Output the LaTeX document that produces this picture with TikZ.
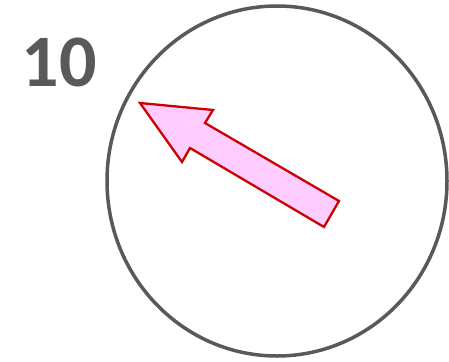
\documentclass[tikz,border=0pt]{standalone}
\usepackage{fontspec}
\setmainfont{Carlito}
\definecolor{rimgray}{HTML}{595959}
\definecolor{arrowfill}{HTML}{FFCCFF}
\definecolor{arrowline}{HTML}{CC0000}
\tikzset{
  rim/.style={draw=rimgray, line width=3.5pt},
  pointer/.style={draw=arrowline, fill=arrowfill, line width=2.3pt, line join=miter},
  numlabel/.style={text=rimgray, font=\bfseries\fontsize{74}{74}\selectfont, inner sep=0pt, anchor=base}
}
\begin{document}
\begin{tikzpicture}[x=1pt,y=-1pt]
\useasboundingbox (0,0) rectangle (449,361);
\draw[rim] (277,181) ellipse [x radius=170pt, y radius=175pt];
\draw[pointer] (140,103) -- (213,110) -- (205,123) -- (339,201) -- (324,227) -- (190,148) -- (182,162) -- cycle;
\node[numlabel] (num) at (59.5,86) {10};
\end{tikzpicture}
\end{document}
